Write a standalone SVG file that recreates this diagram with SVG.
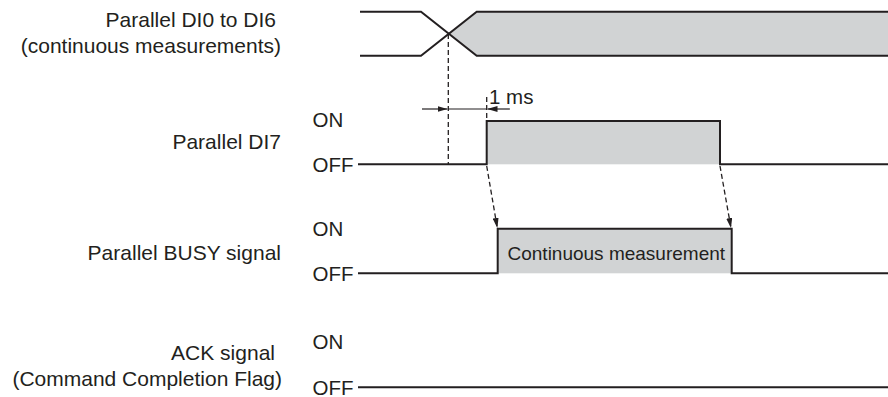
<svg xmlns="http://www.w3.org/2000/svg" width="888" height="397" viewBox="0 0 888 397">
<style>
.lbl{font-family:"Liberation Sans",Arial,sans-serif;font-size:21px;fill:#231f20;text-anchor:end}
.lvl{font-family:"Liberation Sans",Arial,sans-serif;font-size:20.5px;fill:#231f20}
.sig{fill:none;stroke:#231f20;stroke-width:2;stroke-linejoin:miter}
.fill{fill:#d1d3d4;stroke:none}
.dash{fill:none;stroke:#231f20;stroke-width:1.3;stroke-dasharray:5,3}
.dim{fill:none;stroke:#231f20;stroke-width:1.2}
</style>
<defs>
<marker id="ah" markerWidth="10" markerHeight="6" refX="10" refY="3" orient="auto" markerUnits="userSpaceOnUse">
<path d="M0,0 L10,3 L0,6 Z" fill="#231f20"/>
</marker>
</defs>
<rect width="888" height="397" fill="#ffffff"/>

<g id="di0-6">
<text class="lbl" x="276" y="27">Parallel DI0 to DI6</text>
<text class="lbl" x="281" y="53">(continuous measurements)</text>
<polygon class="fill" points="448.8,33.7 476.7,11.7 888,11.7 888,55.7 476.7,55.7"/>
<path class="sig" d="M360,11.7 H421 L476.7,55.7 H888"/>
<path class="sig" d="M360,55.7 H421 L476.7,11.7 H888"/>
</g>

<g id="di7">
<text class="lbl" x="281" y="148.5">Parallel DI7</text>
<text class="lvl" x="312.5" y="127">ON</text>
<text class="lvl" x="312.5" y="172">OFF</text>
<rect class="fill" x="486.7" y="121" width="233.3" height="43.3"/>
<path class="sig" d="M358,164.3 H486.7 V121 H720 V164.3 H888"/>
</g>

<g id="busy">
<text class="lbl" x="281" y="259.5">Parallel BUSY signal</text>
<text class="lvl" x="312.5" y="235.5">ON</text>
<text class="lvl" x="312.5" y="280.5">OFF</text>
<rect class="fill" x="497.7" y="228.7" width="234" height="44.6"/>
<path class="sig" d="M358,273.3 H497.7 V228.7 H731.7 V273.3 H888"/>
<text x="507.5" y="260" font-family="Liberation Sans, Arial, sans-serif" font-size="19" fill="#231f20">Continuous measurement</text>
</g>

<g id="ack">
<text class="lbl" x="275" y="359.5">ACK signal</text>
<text class="lbl" x="282" y="385.5">(Command Completion Flag)</text>
<text class="lvl" x="312.5" y="348.5">ON</text>
<text class="lvl" x="312.5" y="394.5">OFF</text>
<path class="sig" d="M358,387.3 H888"/>
</g>

<g id="connectors">
<path class="dash" d="M448.3,34 V164"/>
<path class="dash" d="M486.7,97 V121"/>
<path class="dim" d="M448.5,109 H486.5"/>
<path class="dim" d="M422,109 H447.5" marker-end="url(#ah)"/>
<path class="dim" d="M510,109 H487.5" marker-end="url(#ah)"/>
<path class="dash" d="M486.7,166 L497.3,228" marker-end="url(#ah)"/>
<path class="dash" d="M720,166 L731,228" marker-end="url(#ah)"/>
<text x="489" y="103.5" font-family="Liberation Sans, Arial, sans-serif" font-size="20.5" fill="#231f20">1 ms</text>
</g>
</svg>
